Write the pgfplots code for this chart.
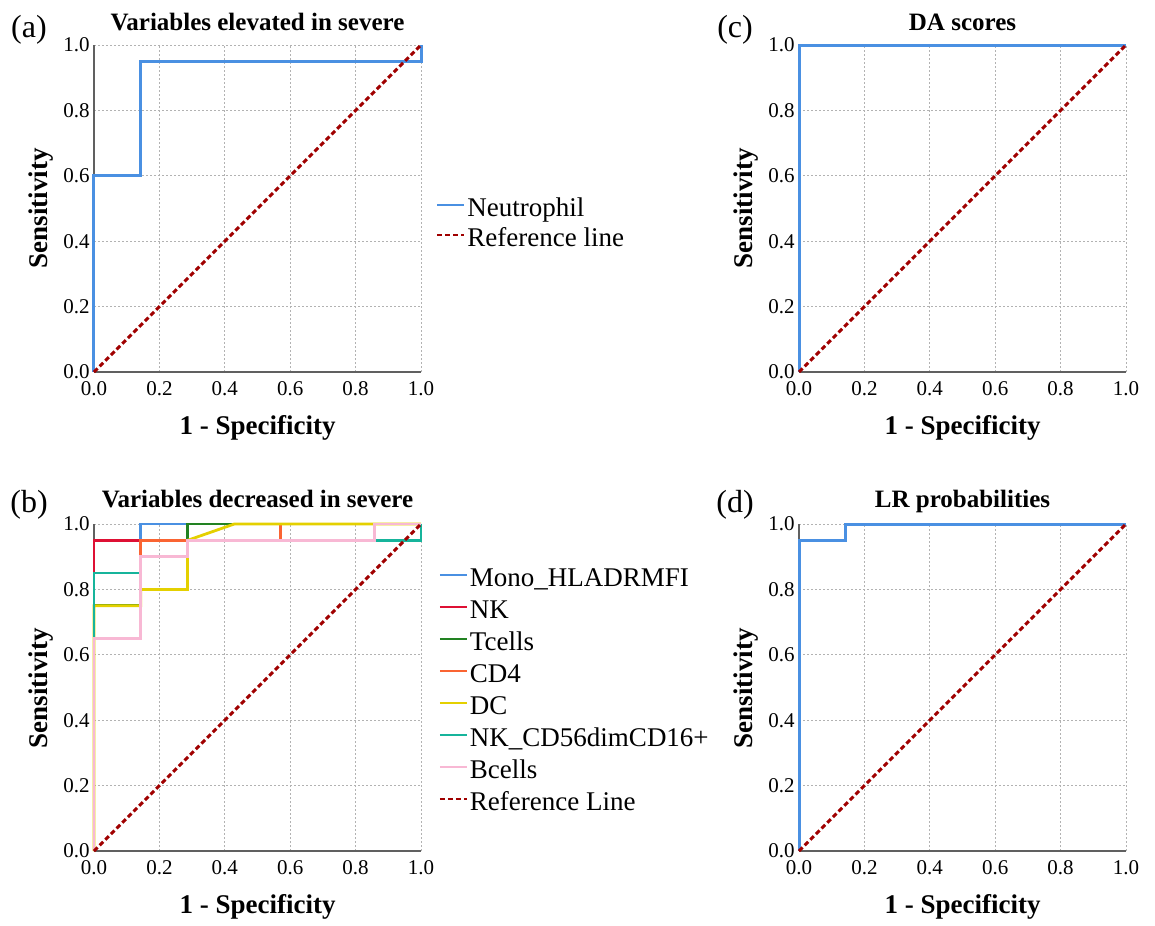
\documentclass[border=0pt]{standalone}
\usepackage{fontspec}
\setmainfont{Liberation Serif}
\usepackage{pgfplots}
\pgfplotsset{compat=1.18}
\definecolor{cblue}{RGB}{74,144,226}
\definecolor{cred}{RGB}{222,16,52}
\definecolor{cgreen}{RGB}{34,130,34}
\definecolor{corange}{RGB}{250,100,50}
\definecolor{cyellow}{RGB}{228,208,0}
\definecolor{cteal}{RGB}{22,180,155}
\definecolor{cpink}{RGB}{248,184,212}
\definecolor{cref}{RGB}{160,0,0}
\pgfplotsset{
  rocaxis/.style={
    scale only axis, width=163.5pt, height=163.5pt,
    anchor=south west,
    xmin=0, xmax=1, ymin=0, ymax=1,
    axis x line=bottom, axis y line=left,
    axis line style={-, draw=gray!75!black, line width=0.6pt},
    xtick={0,0.2,0.4,0.6,0.8,1}, ytick={0,0.2,0.4,0.6,0.8,1},
    major tick length=0pt,
    grid=major,
    major grid style={draw=gray!60, line width=0.5pt, dash pattern=on 1pt off 1pt},
    tick label style={font=\fontsize{10.5}{12}\selectfont},
    xticklabel style={yshift=-1.4pt},
    yticklabel style={xshift=1.4pt},
    /pgf/number format/fixed, /pgf/number format/fixed zerofill,
    /pgf/number format/precision=1,
    /pgf/number format/assume math mode=true,
    clip=false,
    legend image code/.code={\draw[##1, line width=1pt] (0pt,0.3em) -- (13.5pt,0.3em);},
    legend style={draw=none, fill=none, inner sep=0pt, outer sep=0pt,
      font=\fontsize{13.5}{16}\selectfont, legend cell align=left, anchor=west,
      nodes={inner sep=1pt, text height=9pt, text depth=3pt}, row sep=2pt},
  },
  refl/.style={cref, line width=1.5pt, dash pattern=on 2.5pt off 1.5pt},
}
\begin{document}
\begin{tikzpicture}
\path (0,0) rectangle (577.5pt,-459.5pt);
% (a)
\begin{axis}[rocaxis, at={(47pt,-186pt)},
  legend style={at={(axis description cs:1.047,0.448)}, row sep=1pt}]
\addplot[cblue, line width=1.5pt] coordinates {(0,0) (0,0.6) (0.143,0.6) (0.143,0.95) (1,0.95) (1,1)};
\addlegendentry{Neutrophil}
\addplot[refl] coordinates {(0,0) (1,1)};
\addlegendentry{Reference line}
\end{axis}
% (c)
\begin{axis}[rocaxis, at={(399.5pt,-186pt)}]
\addplot[cblue, line width=1.5pt] coordinates {(0,0) (0,1) (1,1)};
\addplot[refl] coordinates {(0,0) (1,1)};
\end{axis}
% (b)
\begin{axis}[rocaxis, at={(47pt,-425.5pt)},
  legend style={at={(axis description cs:1.055,0.484)}}]
\addplot[cblue, line width=1.4pt] coordinates {(0,0) (0,0.95) (0.143,0.95) (0.143,1) (1,1)};
\addlegendentry{Mono\_HLADRMFI}
\addplot[cred, line width=1.4pt] coordinates {(0,0) (0,0.95) (0.571,0.95) (0.571,1) (1,1)};
\addlegendentry{NK}
\addplot[cgreen, line width=1.4pt] coordinates {(0,0) (0,0.75) (0.143,0.75) (0.143,0.95) (0.286,0.95) (0.286,1) (1,1)};
\addlegendentry{Tcells}
\addplot[corange, line width=1.4pt] coordinates {(0,0) (0,0.85) (0.143,0.85) (0.143,0.95) (0.571,0.95) (0.571,1) (1,1)};
\addlegendentry{CD4}
\addplot[cyellow, line width=1.4pt] coordinates {(0,0) (0,0.75) (0.143,0.75) (0.143,0.8) (0.286,0.8) (0.286,0.95) (0.429,1) (1,1)};
\addlegendentry{DC}
\addplot[cteal, line width=1.4pt] coordinates {(0,0) (0,0.85) (0.143,0.85) (0.143,0.9) (0.286,0.9) (0.286,0.95) (1,0.95) (1,1)};
\addlegendentry{NK\_CD56dimCD16+}
\addplot[cpink, line width=1.4pt] coordinates {(0,0) (0,0.65) (0.143,0.65) (0.143,0.9) (0.286,0.9) (0.286,0.95) (0.857,0.95) (0.857,1) (1,1)};
\addlegendentry{Bcells}
\addplot[refl] coordinates {(0,0) (1,1)};
\addlegendentry{Reference Line}
\end{axis}
% (d)
\begin{axis}[rocaxis, at={(399.5pt,-425.5pt)}]
\addplot[cblue, line width=1.5pt] coordinates {(0,0) (0,0.95) (0.143,0.95) (0.143,1) (1,1)};
\addplot[refl] coordinates {(0,0) (1,1)};
\end{axis}
% panel labels and titles
\tikzset{plab/.style={anchor=base, font=\fontsize{16}{18}\selectfont},
  ttl/.style={anchor=base, font=\fontsize{12.5}{14}\selectfont\bfseries},
  axl/.style={font=\fontsize{13.5}{15}\selectfont\bfseries}}
\node[plab] at (14.5pt,-18.5pt) {(a)};
\node[plab] at (367.5pt,-18.5pt) {(c)};
\node[plab] at (14.5pt,-256pt) {(b)};
\node[plab] at (367.5pt,-256pt) {(d)};
\node[ttl] at (128.75pt,-15pt) {Variables elevated in severe};
\node[ttl] at (481.25pt,-15pt) {DA scores};
\node[ttl] at (128.75pt,-253.5pt) {Variables decreased in severe};
\node[ttl] at (481.25pt,-253.5pt) {LR probabilities};
\node[axl, anchor=base] at (128.75pt,-217pt) {1 - Specificity};
\node[axl, anchor=base] at (481.25pt,-217pt) {1 - Specificity};
\node[axl, anchor=base] at (128.75pt,-456.5pt) {1 - Specificity};
\node[axl, anchor=base] at (481.25pt,-456.5pt) {1 - Specificity};
\node[axl, rotate=90] at (20.5pt,-104.25pt) {Sensitivity};
\node[axl, rotate=90] at (373pt,-104.25pt) {Sensitivity};
\node[axl, rotate=90] at (20.5pt,-344pt) {Sensitivity};
\node[axl, rotate=90] at (373pt,-344pt) {Sensitivity};
\end{tikzpicture}
\end{document}
